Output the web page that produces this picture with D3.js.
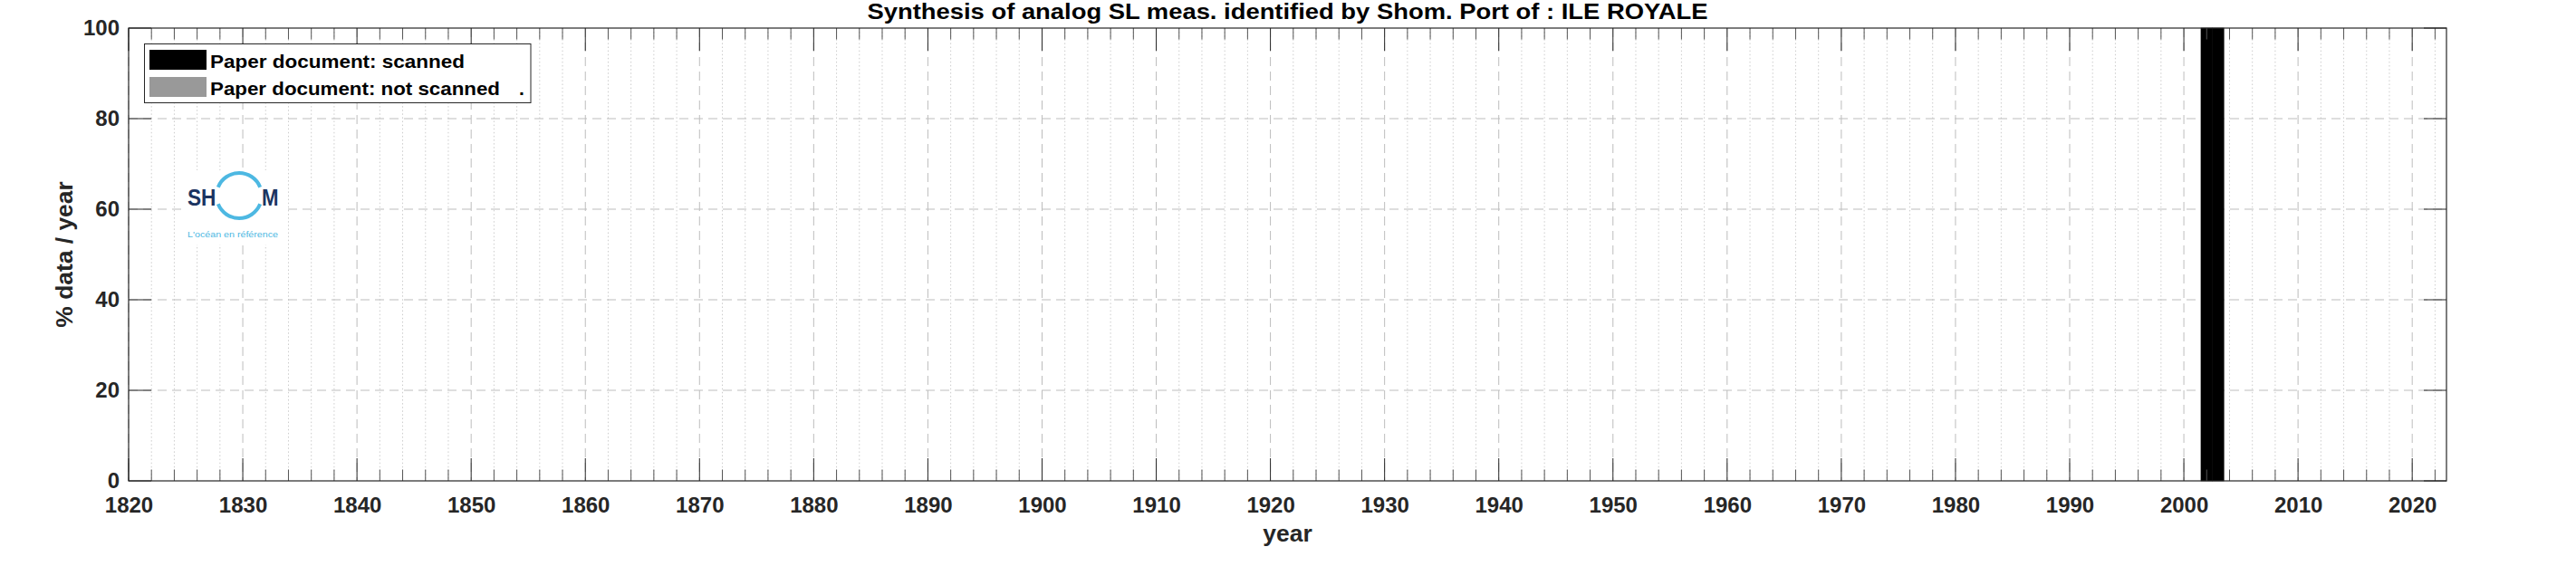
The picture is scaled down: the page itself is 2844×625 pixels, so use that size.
<!DOCTYPE html>
<html>
<head>
<meta charset="utf-8">
<script src="https://cdn.jsdelivr.net/npm/d3@7"></script>
<style>
  html, body { margin: 0; padding: 0; background: #fff; }
  svg { display: block; }
  text { font-family: "Liberation Sans", Arial, Helvetica, sans-serif; }
</style>
</head>
<body>
<svg id="chart" width="2844" height="625"></svg>
<script>
// ---- data ----
const title = "Synthesis of analog SL meas. identified by Shom. Port of : ILE ROYALE";
const years = [2002, 2003];
const scanned = [100, 100];
const notScanned = [0, 0];
const xTickLabels = [1820, 1830, 1840, 1850, 1860, 1870, 1880, 1890, 1900, 1910, 1920,
                     1930, 1940, 1950, 1960, 1970, 1980, 1990, 2000, 2010, 2020];
const xMinorTicks = [1822, 1824, 1826, 1828, 1832, 1834, 1836, 1838, 1842, 1844, 1846, 1848,
  1852, 1854, 1856, 1858, 1862, 1864, 1866, 1868, 1872, 1874, 1876, 1878, 1882, 1884, 1886, 1888,
  1892, 1894, 1896, 1898, 1902, 1904, 1906, 1908, 1912, 1914, 1916, 1918, 1922, 1924, 1926, 1928,
  1932, 1934, 1936, 1938, 1942, 1944, 1946, 1948, 1952, 1954, 1956, 1958, 1962, 1964, 1966, 1968,
  1972, 1974, 1976, 1978, 1982, 1984, 1986, 1988, 1992, 1994, 1996, 1998, 2002, 2004, 2006, 2008,
  2012, 2014, 2016, 2018, 2022];
const yTickLabels = [0, 20, 40, 60, 80, 100];
const legendLabels = ["Paper document: scanned", "Paper document: not scanned"];
const seriesColors = ["#000000", "#999999"];

// ---- layout ----
const L = 142, R = 2701, T = 31, B = 531;
const svg = d3.select("#chart");
const x = d3.scaleLinear().domain([1820, 2023]).range([L, R]);
const y = d3.scaleLinear().domain([0, 100]).range([B, T]);
const axisColor = "#262626";

// grid
const grid = svg.append("g");
grid.selectAll(".minor").data(xMinorTicks).join("line")
  .attr("x1", d => x(d)).attr("x2", d => x(d)).attr("y1", T).attr("y2", B)
  .attr("stroke", "#cccccc").attr("stroke-width", 1).attr("stroke-dasharray", "1.5,2.6");
grid.selectAll(".majx").data(xTickLabels).join("line")
  .attr("x1", d => x(d)).attr("x2", d => x(d)).attr("y1", T).attr("y2", B)
  .attr("stroke", "#bdbdbd").attr("stroke-width", 1).attr("stroke-dasharray", "10,6");
grid.selectAll(".majy").data(yTickLabels.filter(d => d > 0 && d < 100)).join("line")
  .attr("x1", L).attr("x2", R).attr("y1", d => y(d)).attr("y2", d => y(d))
  .attr("stroke", "#bdbdbd").attr("stroke-width", 1).attr("stroke-dasharray", "10,6");

// bars (stacked)
const stackData = years.map((yr, i) => ({ year: yr, scanned: scanned[i], notScanned: notScanned[i] }));
const stack = d3.stack().keys(["scanned", "notScanned"])(stackData);
svg.append("g").selectAll("g").data(stack).join("g")
  .attr("fill", (d, i) => seriesColors[i])
  .attr("stroke", (d, i) => seriesColors[i]).attr("stroke-width", 0.6)
  .selectAll("rect").data(d => d.filter(v => v[1] > v[0])).join("rect")
  .attr("x", d => x(d.data.year - 0.5))
  .attr("width", d => x(d.data.year + 0.5) - x(d.data.year - 0.5))
  .attr("y", d => y(d[1]))
  .attr("height", d => y(d[0]) - y(d[1]));

// logo (white background, SHOM mark)
const logo = svg.append("g");
logo.append("rect").attr("x", 200).attr("y", 188).attr("width", 112).attr("height", 82).attr("fill", "#fff");
const arc = d3.arc().innerRadius(23).outerRadius(27);
const cx = 264, cy = 216;
const deg = Math.PI / 180;
logo.append("path").attr("transform", `translate(${cx},${cy})`)
  .attr("d", arc({ startAngle: -68 * deg, endAngle: 68 * deg }))
  .attr("fill", "#4db8e2");
logo.append("path").attr("transform", `translate(${cx},${cy})`)
  .attr("d", arc({ startAngle: 112 * deg, endAngle: 248 * deg }))
  .attr("fill", "#4db8e2");
logo.append("text").attr("x", 207).attr("y", 227).attr("font-size", 26).attr("font-weight", "bold")
  .attr("fill", "#1b3461").attr("textLength", 31.5).attr("lengthAdjust", "spacingAndGlyphs").text("SH");
logo.append("text").attr("x", 289).attr("y", 227).attr("font-size", 26).attr("font-weight", "bold")
  .attr("fill", "#1b3461").attr("textLength", 18.5).attr("lengthAdjust", "spacingAndGlyphs").text("M");
logo.append("text").attr("x", 207).attr("y", 262).attr("font-size", 9.5)
  .attr("fill", "#4db8e2").attr("textLength", 100).attr("lengthAdjust", "spacingAndGlyphs").text("L'océan en référence");

// ticks (inward, both sides)
const ticks = svg.append("g").attr("stroke", axisColor).attr("stroke-width", 1);
xTickLabels.forEach(d => {
  ticks.append("line").attr("x1", x(d)).attr("x2", x(d)).attr("y1", B).attr("y2", B - 25);
  ticks.append("line").attr("x1", x(d)).attr("x2", x(d)).attr("y1", T).attr("y2", T + 25);
});
xMinorTicks.forEach(d => {
  ticks.append("line").attr("x1", x(d)).attr("x2", x(d)).attr("y1", B).attr("y2", B - 12.5).attr("stroke", "#555");
  ticks.append("line").attr("x1", x(d)).attr("x2", x(d)).attr("y1", T).attr("y2", T + 12.5).attr("stroke", "#555");
});
yTickLabels.forEach(d => {
  ticks.append("line").attr("x1", L).attr("x2", L + 25).attr("y1", y(d)).attr("y2", y(d));
  ticks.append("line").attr("x1", R).attr("x2", R - 25).attr("y1", y(d)).attr("y2", y(d));
});

// axes box
svg.append("rect").attr("x", L).attr("y", T).attr("width", R - L).attr("height", B - T)
  .attr("fill", "none").attr("stroke", axisColor).attr("stroke-width", 1.2);

// tick labels via d3 axes (lines hidden)
const xAxis = svg.append("g").attr("transform", `translate(0,${B})`)
  .call(d3.axisBottom(x).tickValues(xTickLabels).tickFormat(d3.format("d")).tickSize(0).tickPadding(18));
const yAxis = svg.append("g").attr("transform", `translate(${L},0)`)
  .call(d3.axisLeft(y).tickValues(yTickLabels).tickSize(0).tickPadding(10));
[xAxis, yAxis].forEach(a => {
  a.select(".domain").remove();
  a.selectAll("text").attr("font-size", 24).attr("font-weight", "bold").attr("fill", axisColor)
    .attr("font-family", '"Liberation Sans", Arial, sans-serif');
});

// legend
const lg = svg.append("g");
lg.append("rect").attr("x", 159.5).attr("y", 48.5).attr("width", 426.5).attr("height", 65)
  .attr("fill", "#fff").attr("stroke", axisColor).attr("stroke-width", 1);
const legendWidths = [281, 320];
legendLabels.forEach((t, i) => {
  lg.append("rect").attr("x", 165).attr("y", 55 + i * 30).attr("width", 63).attr("height", 22).attr("fill", seriesColors[i]);
  lg.append("text").attr("x", 232).attr("y", 75 + i * 29.5).attr("font-size", 21).attr("font-weight", "bold")
    .attr("fill", "#000").attr("textLength", legendWidths[i]).attr("lengthAdjust", "spacingAndGlyphs").text(t);
});
lg.append("text").attr("x", 573).attr("y", 104.5).attr("font-size", 21).attr("font-weight", "bold")
  .attr("fill", "#000").text(".");

// title and labels
svg.append("text").attr("x", (L + R) / 2).attr("y", 21).attr("text-anchor", "middle")
  .attr("font-size", 23).attr("font-weight", "bold").attr("fill", "#000")
  .attr("textLength", 928).attr("lengthAdjust", "spacingAndGlyphs").text(title);
svg.append("text").attr("x", (L + R) / 2).attr("y", 598).attr("text-anchor", "middle")
  .attr("font-size", 26.4).attr("font-weight", "bold").attr("fill", axisColor).text("year");
svg.append("text").attr("transform", `translate(80,${(T + B) / 2}) rotate(-90)`).attr("text-anchor", "middle")
  .attr("font-size", 26.4).attr("font-weight", "bold").attr("fill", axisColor).text("% data / year");
</script>
</body>
</html>
